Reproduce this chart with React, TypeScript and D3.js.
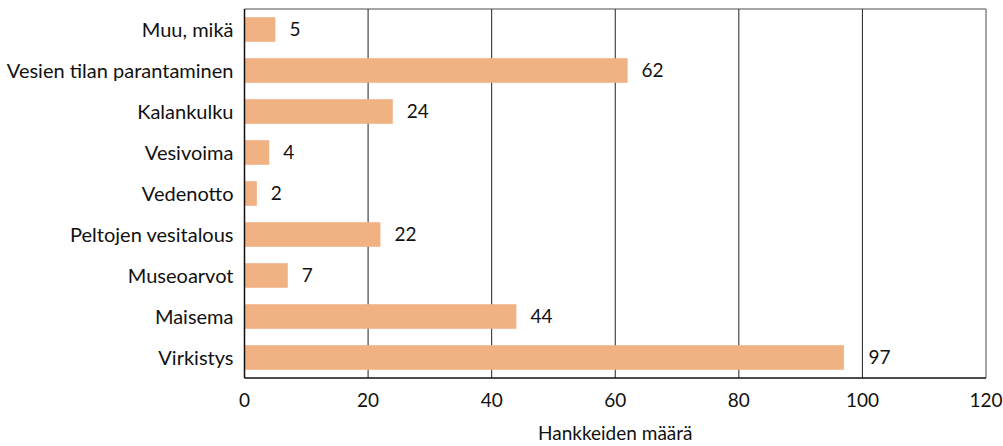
import React from 'react';
import * as d3 from 'd3';

// Data
const categories = [
  'Muu, mikä',
  'Vesien tilan parantaminen',
  'Kalankulku',
  'Vesivoima',
  'Vedenotto',
  'Peltojen vesitalous',
  'Museoarvot',
  'Maisema',
  'Virkistys',
];
const values = [5, 62, 24, 4, 2, 22, 7, 44, 97];
const xTicks = [0, 20, 40, 60, 80, 100, 120];
const xTitle = 'Hankkeiden määrä';

const W = 1003;
const H = 446;
const margin = { top: 9, right: 17, bottom: 68, left: 244.5 };
const FONT = 'Lato, "Open Sans", sans-serif';
const FS = 19;
const BAR = '#F0B183';

export default function App() {
  const innerW = W - margin.left - margin.right;
  const innerH = H - margin.top - margin.bottom;

  const x = d3.scaleLinear().domain([0, 120]).range([0, innerW]);
  const y = d3.scaleBand<string>().domain(categories).range([0, innerH]).paddingInner(0.4).paddingOuter(0.2);

  // value label position: right of bar, pushed past a gridline if it would overlap one
  const labelX = (v: number) => {
    let start = x(v) + 14;
    const w = String(v).length * FS * 0.58;
    xTicks.slice(1, -1).forEach(t => {
      const gx = x(t);
      if (gx > x(v) && gx < start + w) start = gx + 6;
    });
    return start;
  };

  return (
    <svg width={W} height={H} style={{ position: 'absolute', left: 0, top: 0, background: '#fff' }}>
      <g transform={`translate(${margin.left},${margin.top})`} fontFamily={FONT}>
        {/* frame: top & right gray */}
        <line x1={0} x2={innerW} y1={0} y2={0} stroke="#888" strokeWidth={1.5} />
        <line x1={innerW} x2={innerW} y1={0} y2={innerH} stroke="#888" strokeWidth={1.5} />

        {/* vertical gridlines */}
        {xTicks.slice(1, -1).map(t => (
          <line key={t} x1={x(t)} x2={x(t)} y1={0} y2={innerH} stroke="#222" strokeWidth={1} />
        ))}

        {/* bars */}
        {categories.map((c, i) => (
          <g key={c}>
            <rect x={0} y={y(c)} width={x(values[i])} height={y.bandwidth()} fill={BAR} />
            <text
              x={labelX(values[i])}
              y={(y(c) ?? 0) + y.bandwidth() / 2}
              dy="0.35em"
              fontSize={FS}
              fill="#111"
            >
              {values[i]}
            </text>
            <text
              x={-11}
              y={(y(c) ?? 0) + y.bandwidth() / 2}
              dy="0.35em"
              textAnchor="end"
              fontSize={20}
              fill="#111"
            >
              {c}
            </text>
          </g>
        ))}

        {/* left & bottom axis lines */}
        <line x1={0} x2={0} y1={0} y2={innerH} stroke="#111" strokeWidth={1.5} />
        <line x1={0} x2={innerW} y1={innerH} y2={innerH} stroke="#111" strokeWidth={1.5} />

        {/* x tick labels */}
        {xTicks.map(t => (
          <text key={t} x={x(t)} y={innerH + 22} dy="0.35em" textAnchor="middle" fontSize={FS} fill="#111">
            {t}
          </text>
        ))}

        <text x={x(60)} y={innerH + 55} dy="0.35em" textAnchor="middle" fontSize={FS} fill="#111">
          {xTitle}
        </text>
      </g>
    </svg>
  );
}
